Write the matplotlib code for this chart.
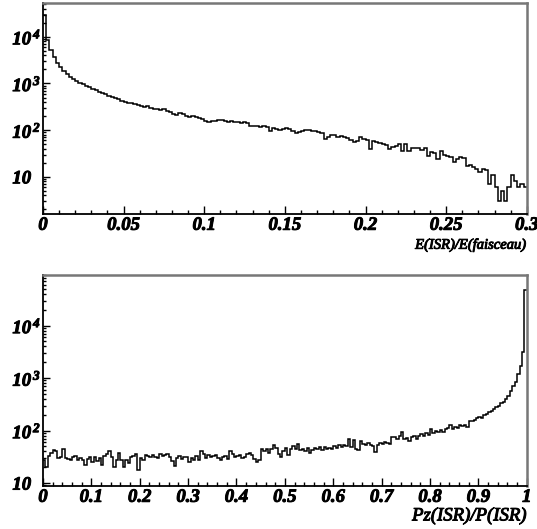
import numpy as np
import matplotlib
matplotlib.use('Agg')
import matplotlib.pyplot as plt
import matplotlib.patheffects as pe
from matplotlib.ticker import MultipleLocator, LogLocator, FuncFormatter

plt.rcParams['font.family'] = 'Liberation Serif'
plt.rcParams['font.weight'] = 'bold'
plt.rcParams['font.style'] = 'italic'
plt.rcParams['mathtext.fontset'] = 'custom'
plt.rcParams['mathtext.rm'] = 'Liberation Serif:bold:italic'
plt.rcParams['mathtext.it'] = 'Liberation Serif:bold:italic'
plt.rcParams['mathtext.bf'] = 'Liberation Serif:bold:italic'

# E(ISR)/E(faisceau), 150 bins over [0, 0.3]
e_range = (0.0, 0.3)
e_counts = [
    30000, 8500, 5300, 3700, 2800, 2250, 1850, 1600, 1400, 1250,
    1120, 1030, 950, 880, 820, 760, 720, 670, 630, 590,
    540, 510, 480, 455, 420, 400, 385, 390, 360, 345,
    330, 315, 325, 300, 290, 285, 270, 290, 262, 245,
    220, 210, 232, 225, 205, 195, 200, 188, 180, 175,
    158, 150, 160, 155, 165, 162, 158, 152, 160, 150,
    148, 145, 150, 140, 123, 125, 120, 118, 122, 114,
    97, 112, 104, 100, 108, 112, 105, 98, 87, 90,
    95, 100, 102, 96, 98, 90, 88, 65, 72, 80,
    78, 72, 74, 70, 68, 62, 55, 58, 71, 65,
    60, 40, 58, 55, 52, 50, 48, 40, 44, 46,
    50, 36, 50, 35, 42, 41, 41, 38, 41, 28,
    34, 33, 24, 35, 30, 28, 26, 21, 24, 27,
    25, 17, 18, 16, 15, 13, 15, 14, 7, 11,
    6, 3, 5, 3, 6, 11, 8, 6, 7, 6,
]

# Pz(ISR)/P(ISR), 200 bins over [0, 1]
p_range = (0.0, 1.0)
p_counts = [
    28, 20, 33, 38, 43, 40, 30, 32, 44, 30,
    29, 27, 31, 33, 28, 30, 27, 22, 29, 31,
    25, 32, 26, 30, 22, 33, 36, 40, 31, 20,
    27, 38, 27, 20, 28, 24, 31, 33, 36, 18,
    30, 28, 34, 33, 31, 34, 32, 30, 36, 33,
    34, 36, 31, 26, 21, 30, 33, 29, 32, 31,
    25, 30, 27, 33, 28, 41, 36, 30, 34, 32,
    33, 35, 30, 28, 32, 33, 29, 40, 36, 31,
    33, 35, 30, 32, 36, 38, 35, 29, 25, 27,
    44, 40, 45, 38, 44, 52, 46, 36, 32, 40,
    46, 34, 45, 50, 44, 56, 42, 45, 40, 47,
    38, 43, 46, 44, 48, 42, 49, 45, 47, 44,
    50, 47, 52, 49, 54, 50, 69, 48, 66, 45,
    42, 62, 55, 52, 57, 54, 50, 39, 52, 58,
    56, 60, 58, 55, 76, 74, 70, 78, 94, 68,
    72, 62, 75, 80, 70, 78, 85, 80, 88, 82,
    107, 90, 98, 95, 102, 96, 105, 110, 125, 108,
    118, 112, 130, 122, 128, 118, 155, 150, 160, 170,
    182, 175, 195, 210, 225, 240, 260, 283, 300, 330,
    352, 400, 450, 560, 700, 850, 1200, 1700, 3100, 48000,
]

bold = [pe.withStroke(linewidth=0.7, foreground='black')]


def ylabel_fmt(v, pos):
    e = int(round(np.log10(v)))
    if e == 1:
        return '10'
    return r'$10^{\,%d}$' % e


def style_axis(ax, xmajor, xminor, ylim):
    ax.set_yscale('log')
    ax.set_ylim(*ylim)
    ax.xaxis.set_major_locator(MultipleLocator(xmajor))
    ax.xaxis.set_minor_locator(MultipleLocator(xminor))
    ax.yaxis.set_major_locator(LogLocator(base=10, numticks=10))
    ax.yaxis.set_minor_locator(LogLocator(base=10, subs=np.arange(2, 10), numticks=20))
    ax.yaxis.set_major_formatter(FuncFormatter(ylabel_fmt))
    ax.xaxis.set_major_formatter(FuncFormatter(lambda v, p: '%g' % round(v, 3)))
    ax.tick_params(which='both', direction='in', top=False, right=False, width=1)
    ax.tick_params(axis='x', which='major', length=6, pad=2, labelsize=13.5)
    ax.tick_params(axis='x', which='minor', length=3)
    ax.tick_params(axis='y', which='major', length=5, pad=22, labelsize=13.5)
    ax.tick_params(axis='y', which='minor', length=2.5)
    for lab in ax.get_yticklabels():
        lab.set_horizontalalignment('left')
    for lab in ax.get_xticklabels() + ax.get_yticklabels():
        lab.set_path_effects(bold)
    for s in ['left', 'bottom']:
        ax.spines[s].set_linewidth(1.3)
        ax.spines[s].set_color('black')
    for s in ['top', 'right']:
        ax.spines[s].set_linewidth(1.8)
        ax.spines[s].set_color('#777777')


fig = plt.figure(figsize=(5.37, 5.29), dpi=100)
ax1 = fig.add_axes([0.080, 0.5955, 0.901, 0.3989])
ax2 = fig.add_axes([0.080, 0.0813, 0.901, 0.3989])

e_edges = np.linspace(e_range[0], e_range[1], len(e_counts) + 1)
ax1.stairs(e_counts, e_edges, baseline=None, color='black', lw=1.1)
ax1.set_xlim(*e_range)
style_axis(ax1, 0.05, 0.01, (1.6, 5.3e4))
ax1.set_xlabel('E(ISR)/E(faisceau)', loc='right', fontsize=10.5, labelpad=3,
               path_effects=bold)

p_edges = np.linspace(p_range[0], p_range[1], len(p_counts) + 1)
ax2.stairs(p_counts, p_edges, baseline=None, color='black', lw=1.1)
ax2.set_xlim(*p_range)
style_axis(ax2, 0.1, 0.02, (8.8, 9.2e4))
ax2.set_xlabel('Pz(ISR)/P(ISR)', loc='right', fontsize=13.5, labelpad=1,
               path_effects=bold)

fig.savefig('out.png', dpi=100)
